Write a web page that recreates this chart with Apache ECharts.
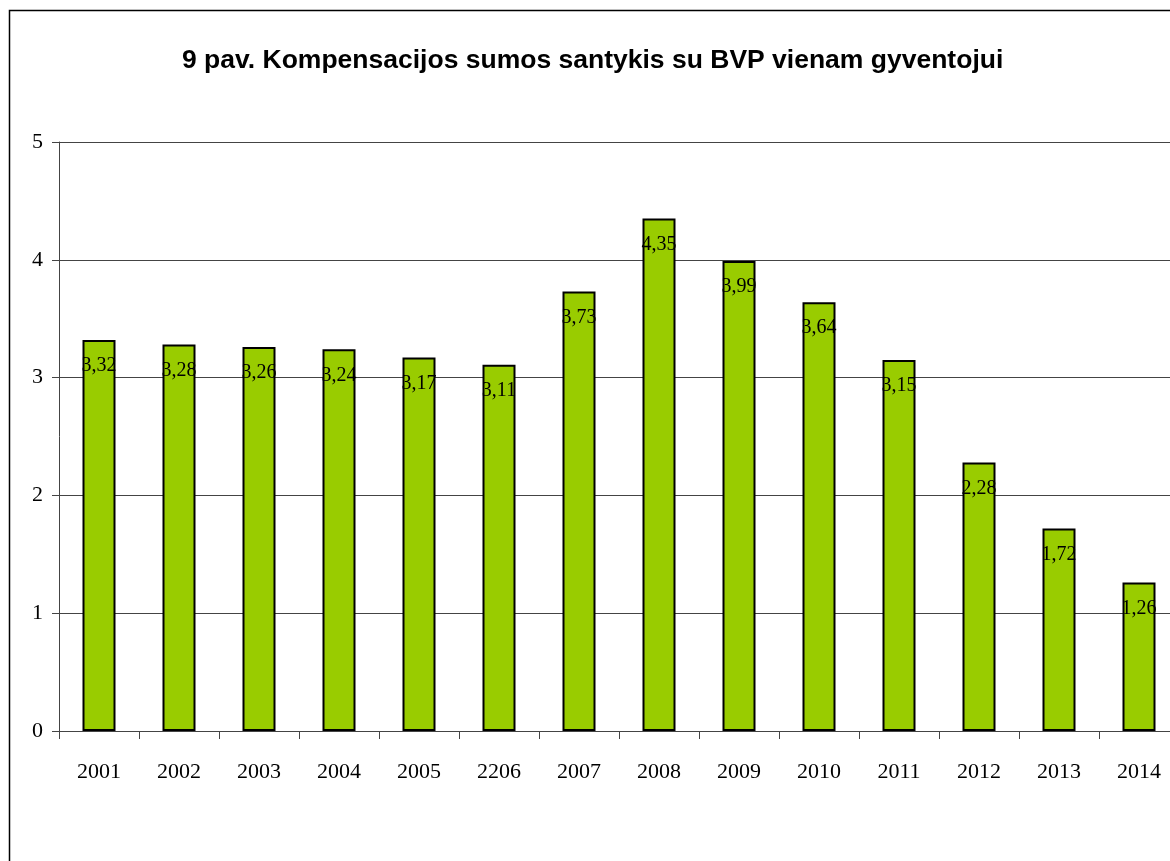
<!DOCTYPE html>
<html>
<head>
<meta charset="utf-8">
<script src="https://cdn.jsdelivr.net/npm/echarts@6/dist/echarts.min.js"></script>
<style>
  html, body { margin: 0; padding: 0; background: #fff; }
  #chart { width: 1170px; height: 861px; }
</style>
</head>
<body>
<div id="chart"></div>
<script>
var years = ["2001", "2002", "2003", "2004", "2005", "2206", "2007", "2008", "2009", "2010", "2011", "2012", "2013", "2014"];
var ratios = [3.32, 3.28, 3.26, 3.24, 3.17, 3.11, 3.73, 4.35, 3.99, 3.64, 3.15, 2.28, 1.72, 1.26];
var yTicks = [0, 1, 2, 3, 4, 5];

(function () {
  var myChart = echarts.init(document.getElementById("chart"));
  var serif = "'Liberation Serif', 'Times New Roman', serif";
  var option = {
    animation: false,
    backgroundColor: "#fff",
    title: {
      text: "9 pav. Kompensacijos sumos santykis su BVP vienam gyventojui",
      left: 177,
      top: 42,
      textStyle: {
        fontFamily: "'Liberation Sans', Arial, sans-serif",
        fontWeight: "bold",
        fontSize: 26.5,
        color: "#000",
      },
    },
    graphic: [
      {
        type: "rect",
        z: -1,
        shape: { x: 9.5, y: 10.5, width: 1200, height: 900 },
        style: { fill: "none", stroke: "#000", lineWidth: 1.5 },
      },
    ],
    grid: {
      left: 59,
      top: 142,
      width: 1120,
      bottom: 130,
      outerBoundsMode: "none",
    },
    xAxis: {
      type: "category",
      data: years,
      axisLine: { lineStyle: { color: "#444", width: 1 } },
      axisTick: { show: true, length: 8, lineStyle: { color: "#444" } },
      axisLabel: {
        interval: 0,
        margin: 30,
        fontFamily: serif,
        fontSize: 22,
        color: "#000",
      },
    },
    yAxis: {
      type: "value",
      min: yTicks[0],
      max: yTicks[yTicks.length - 1],
      interval: 1,
      axisLine: { show: true, lineStyle: { color: "#444", width: 1 } },
      axisTick: { show: true, length: 7, lineStyle: { color: "#444" } },
      axisLabel: {
        margin: 16,
        fontFamily: serif,
        fontSize: 22,
        color: "#000",
      },
      splitLine: { lineStyle: { color: "#444", width: 1 } },
    },
    series: [
      {
        type: "bar",
        data: ratios,
        barWidth: 33,
        itemStyle: {
          color: "#99CC00",
          borderColor: "#000",
          borderWidth: 2,
        },
        label: {
          show: true,
          position: "insideTop",
          distance: 16,
          fontFamily: serif,
          fontSize: 20,
          color: "#000",
          formatter: function (p) {
            return p.value.toFixed(2).replace(".", ",");
          },
        },
      },
    ],
  };
  myChart.setOption(option);
  window.addEventListener("resize", function () {
    myChart.resize();
  });
})();
</script>
</body>
</html>
